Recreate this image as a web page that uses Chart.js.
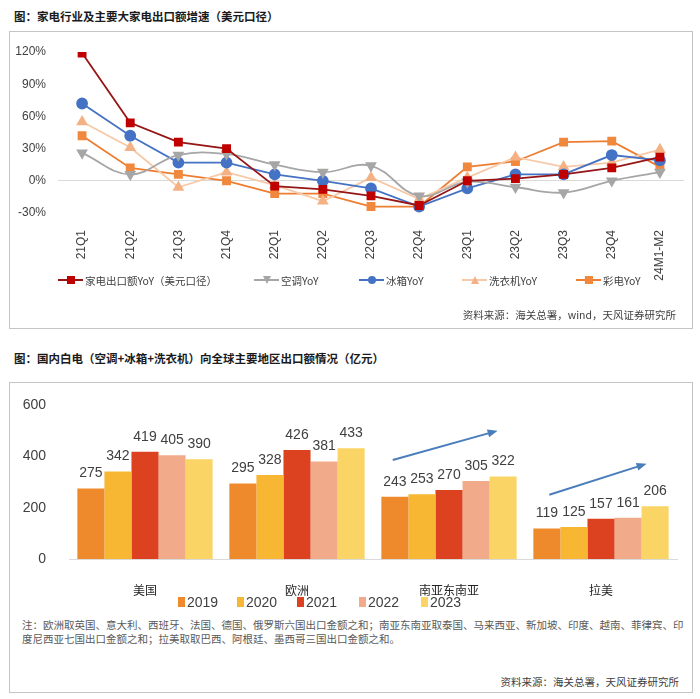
<!DOCTYPE html>
<html>
<head>
<meta charset="utf-8">
<script src="https://cdn.jsdelivr.net/npm/chart.js@4.4.1/dist/chart.umd.min.js"></script>
<style>
  body { margin: 0; background: #fff; width: 700px; height: 699px; position: relative; overflow: hidden; font-family: "Noto Sans CJK SC", sans-serif; }
  .title { position: absolute; left: 14px; font-size: 11.5px; font-weight: bold; color: #1a1a1a; white-space: nowrap; line-height: 14px; }
  .frame { position: absolute; border: 1.5px solid #c4c4c4; box-sizing: border-box; }
  canvas { position: absolute; }
  .src { position: absolute; font-size: 10.5px; color: #404040; white-space: nowrap; line-height: 12px; }
  .note { position: absolute; left: 22px; font-size: 10.5px; color: #595959; white-space: nowrap; line-height: 13px; }
  .lg { position: absolute; display: flex; align-items: center; white-space: nowrap; font-size: 10.5px; color: #404040; height: 14px; }
  .lg .ln { position: relative; width: 25px; height: 2px; margin-right: 2px; }
  .lg .mk { position: absolute; left: 9px; top: -3px; width: 8px; height: 8px; }
  .lg2 { position: absolute; display: flex; align-items: center; white-space: nowrap; font: 14px "Liberation Sans Narrow", "Liberation Sans", sans-serif; color: #404040; }
  .lg2 .bx { width: 7px; height: 10px; margin-right: 2px; }
</style>
</head>
<body>
<div class="title" style="top:9px">图：家电行业及主要大家电出口额增速（美元口径）</div>
<div class="frame" style="left:9px;top:31px;width:684px;height:298px"></div>
<canvas id="lineChart" width="682" height="270" style="left:10px;top:31px"></canvas>
<div id="lineLegend"></div>
<div class="src" style="right:24px;top:309px">资料来源：海关总署，wind，天风证券研究所</div>

<div class="title" style="top:351px">图：国内白电（空调+冰箱+洗衣机）向全球主要地区出口额情况（亿元）</div>
<div class="frame" style="left:9px;top:382px;width:684px;height:311px"></div>
<canvas id="barChart" width="682" height="218" style="left:10px;top:382px"></canvas>
<div id="barLegend"></div>
<div class="note" style="top:618px">注：欧洲取英国、意大利、西班牙、法国、德国、俄罗斯六国出口金额之和；南亚东南亚取泰国、马来西亚、新加坡、印度、越南、菲律宾、印</div>
<div class="note" style="top:632px">度尼西亚七国出口金额之和；拉美取取巴西、阿根廷、墨西哥三国出口金额之和。</div>
<div class="src" style="right:21px;top:676px">资料来源：海关总署，天风证券研究所</div>

<script>
// ---- chart 1: YoY growth (%) ----
const quarters = ["21Q1", "21Q2", "21Q3", "21Q4", "22Q1", "22Q2", "22Q3", "22Q4", "23Q1", "23Q2", "23Q3", "23Q4", "24M1-M2"];
const applianceYoY = [119, 54, 36, 30, -5, -8, -14, -23, 0, 2, 6, 12, 22];
const acYoY = [26, 6, 24, 25, 15, 8, 14, -14, -1, -6, -11, 0, 8];
const fridgeYoY = [72, 42, 17, 17, 6, 0, -7, -24, -7, 6, 6, 24, 19];
const washerYoY = [55, 31, -6, 8, -4, -19, 3, -17, 3, 22, 13, 17, 29];
const tvYoY = [42, 12, 6, 0, -12, -12, -24, -24, 13, 18, 36, 37, 13];
const yoyTicks = [-30, 0, 30, 60, 90, 120];

// ---- chart 2: export value (亿元) ----
const regions = ["美国", "欧洲", "南亚东南亚", "拉美"];
const years = ["2019", "2020", "2021", "2022", "2023"];
const exports2019 = [275, 295, 243, 119];
const exports2020 = [342, 328, 253, 125];
const exports2021 = [419, 426, 270, 157];
const exports2022 = [405, 381, 305, 161];
const exports2023 = [390, 433, 322, 206];
const valueTicks = [0, 200, 400, 600];
// trend arrows in (category index, value) space
const trendArrows = [[1.63, 387, 2.32, 501], [2.66, 251, 3.30, 372]];

const numFont = '"Liberation Sans Narrow", "Liberation Sans", sans-serif';

const lineSeries = [
  { label: "家电出口额YoY（美元口径）", data: applianceYoY, line: "#961515", mark: "#C00000", style: "rect", rot: 0, tension: 0 },
  { label: "空调YoY", data: acYoY, line: "#A6A6A6", mark: "#A6A6A6", style: "triangle", rot: 180, tension: 0.4 },
  { label: "冰箱YoY", data: fridgeYoY, line: "#4472C4", mark: "#4472C4", style: "circle", rot: 0, tension: 0 },
  { label: "洗衣机YoY", data: washerYoY, line: "#F6C9A8", mark: "#F4B183", style: "triangle", rot: 0, tension: 0 },
  { label: "彩电YoY", data: tvYoY, line: "#ED7D31", mark: "#F0883E", style: "rect", rot: 0, tension: 0 }
];

new Chart(document.getElementById("lineChart"), {
  type: "line",
  data: {
    labels: quarters,
    datasets: lineSeries.map(s => ({
      label: s.label,
      data: s.data,
      borderColor: s.line,
      backgroundColor: s.mark,
      pointBackgroundColor: s.mark,
      pointBorderColor: s.mark,
      pointStyle: s.style,
      pointRotation: s.rot,
      pointRadius: 5,
      borderWidth: 1.8,
      tension: s.tension
    }))
  },
  options: {
    responsive: false,
    animation: false,
    devicePixelRatio: 1,
    layout: { padding: { top: 21, right: 8, left: 0, bottom: 0 } },
    plugins: { legend: { display: false }, tooltip: { enabled: false } },
    scales: {
      x: {
        offset: true,
        grid: { display: false },
        border: { display: false },
        ticks: { autoSkip: false, minRotation: 90, maxRotation: 90, padding: 9, color: "#404040", font: { family: numFont, size: 12 } },
        afterFit(s) { s.height = 88; }
      },
      y: {
        min: -30,
        max: 120,
        afterBuildTicks(s) { s.ticks = yoyTicks.map(v => ({ value: v })); },
        grid: { drawTicks: false, color: c => (c.tick && c.tick.value === 0 ? "#d9d9d9" : "rgba(0,0,0,0)") },
        border: { display: false },
        ticks: { padding: 12, color: "#404040", font: { family: numFont, size: 12 }, callback: v => v + "%" },
        afterFit(s) { s.width = 48; }
      }
    }
  }
});

// legend for chart 1
const lineLegendLeft = [58, 254, 359, 462, 576];
const lineLegend = document.getElementById("lineLegend");
lineSeries.forEach((s, i) => {
  const item = document.createElement("div");
  item.className = "lg";
  item.style.left = lineLegendLeft[i] + "px";
  item.style.top = "273px";
  const ln = document.createElement("span");
  ln.className = "ln";
  ln.style.background = s.line;
  const mk = document.createElement("span");
  mk.className = "mk";
  mk.style.background = s.mark;
  if (s.style === "circle") mk.style.borderRadius = "50%";
  if (s.style === "triangle") mk.style.clipPath = s.rot ? "polygon(0 0,100% 0,50% 100%)" : "polygon(50% 0,100% 100%,0 100%)";
  ln.appendChild(mk);
  item.appendChild(ln);
  item.appendChild(document.createTextNode(s.label));
  lineLegend.appendChild(item);
});

// ---- bar chart ----
const barColors = ["#EE8A2C", "#F7B733", "#DC421F", "#F1AB8A", "#FAD565"];
const barData = [exports2019, exports2020, exports2021, exports2022, exports2023];

const barLabels = {
  id: "barLabels",
  afterDatasetsDraw(chart) {
    const ctx = chart.ctx;
    ctx.save();
    ctx.font = "14px " + numFont;
    ctx.fillStyle = "#404040";
    ctx.textAlign = "center";
    ctx.textBaseline = "bottom";
    chart.data.datasets.forEach((ds, i) => {
      chart.getDatasetMeta(i).data.forEach((bar, j) => {
        ctx.fillText(ds.data[j], bar.x, bar.y - 8);
      });
    });
    ctx.restore();
  }
};

const arrowPlugin = {
  id: "trendArrows",
  afterDatasetsDraw(chart) {
    const { ctx, scales: { x, y } } = chart;
    ctx.save();
    ctx.strokeStyle = "#4A7EBB";
    ctx.fillStyle = "#4A7EBB";
    ctx.lineWidth = 2;
    trendArrows.forEach(([i0, v0, i1, v1]) => {
      const x0 = x.getPixelForValue(i0), y0 = y.getPixelForValue(v0);
      const x1 = x.getPixelForValue(i1), y1 = y.getPixelForValue(v1);
      const a = Math.atan2(y1 - y0, x1 - x0);
      const c = Math.cos(a), s = Math.sin(a);
      ctx.beginPath();
      ctx.moveTo(x0, y0);
      ctx.lineTo(x1 - 7 * c, y1 - 7 * s);
      ctx.stroke();
      ctx.beginPath();
      ctx.moveTo(x1, y1);
      ctx.lineTo(x1 - 10 * c + 4 * s, y1 - 10 * s - 4 * c);
      ctx.lineTo(x1 - 10 * c - 4 * s, y1 - 10 * s + 4 * c);
      ctx.closePath();
      ctx.fill();
    });
    ctx.restore();
  }
};

new Chart(document.getElementById("barChart"), {
  type: "bar",
  data: {
    labels: regions,
    datasets: years.map((yr, i) => ({
      label: yr,
      data: barData[i],
      backgroundColor: barColors[i],
      categoryPercentage: 0.89,
      barPercentage: 1.0
    }))
  },
  options: {
    responsive: false,
    animation: false,
    devicePixelRatio: 1,
    layout: { padding: { top: 19, right: 15, left: 0, bottom: 0 } },
    plugins: { legend: { display: false }, tooltip: { enabled: false } },
    scales: {
      x: {
        grid: { display: false },
        border: { display: true, color: "#d9d9d9", width: 1 },
        ticks: { padding: 16, color: "#262626", font: { family: '"Noto Sans CJK SC", sans-serif', size: 12 } },
        afterFit(s) { s.height = 41; }
      },
      y: {
        min: 0,
        max: 600,
        afterBuildTicks(s) { s.ticks = valueTicks.map(v => ({ value: v })); },
        grid: { display: false },
        border: { display: false },
        ticks: { padding: 15, color: "#404040", font: { family: numFont, size: 14 } },
        afterFit(s) { s.width = 59; }
      }
    }
  },
  plugins: [barLabels, arrowPlugin]
});

// legend for chart 2
const barLegendLeft = [178, 237, 297, 359, 421];
const barLegend = document.getElementById("barLegend");
years.forEach((yr, i) => {
  const item = document.createElement("div");
  item.className = "lg2";
  item.style.left = barLegendLeft[i] + "px";
  item.style.top = "594px";
  const bx = document.createElement("span");
  bx.className = "bx";
  bx.style.background = barColors[i];
  item.appendChild(bx);
  item.appendChild(document.createTextNode(yr));
  barLegend.appendChild(item);
});
</script>
</body>
</html>
